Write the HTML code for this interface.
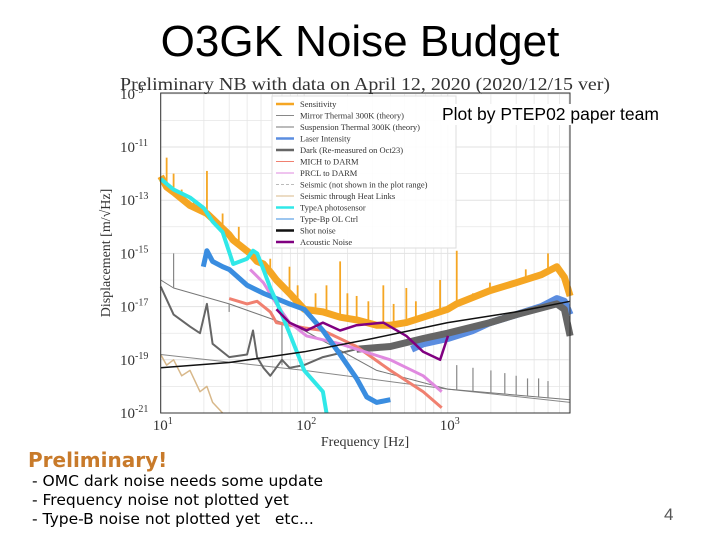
<!DOCTYPE html>
<html><head><meta charset="utf-8">
<style>
body{margin:0;background:#fff;width:720px;height:540px;overflow:hidden;position:relative;font-family:"Liberation Sans",sans-serif}
.abs{position:absolute;white-space:nowrap}
</style></head><body>
<div class="abs" style="left:0;width:720px;text-align:center;top:17px;font-size:44px;color:#000">O3GK Noise Budget</div>
<svg id="chart" width="720" height="540" style="position:absolute;left:0;top:0" xmlns="http://www.w3.org/2000/svg"></svg>
<div class="abs" style="left:441px;top:104px;font-size:17.5px;background:#fff;padding:0 1px">Plot by PTEP02 paper team</div>
<div class="abs" style="left:28px;top:448px;font-size:20px;font-weight:bold;color:#c87a2a;font-family:'DejaVu Sans',sans-serif">Preliminary!</div>
<div class="abs" style="left:32px;top:472px;font-size:15.5px;font-family:'DejaVu Sans',sans-serif">- OMC dark noise needs some update</div>
<div class="abs" style="left:32px;top:491px;font-size:15.5px;font-family:'DejaVu Sans',sans-serif">- Frequency noise not plotted yet</div>
<div class="abs" style="left:32px;top:510px;font-size:15.5px;font-family:'DejaVu Sans',sans-serif">- Type-B noise not plotted yet &nbsp; etc...</div>
<div class="abs" style="left:664px;top:505px;font-size:17px;color:#555">4</div>
<script>
// frequencies in Hz, displacement values as log10 (m/rtHz)
const xTicks=[10,100,1000];
const yTicks=[-21,-19,-17,-15,-13,-11,-9];
const sensF=[10,11,12.3,16,21,23,30,32,42,47,52,58,64,79,100,135,178,232,320,398,515,675,1000,1156,1970,3000,4500,5760,6500,7130];
const sensV=[-12.1,-12.5,-12.7,-13.2,-13.5,-13.7,-14.3,-14.5,-15.0,-15.3,-15.4,-15.7,-16.0,-16.5,-17.1,-17.2,-17.4,-17.5,-17.7,-17.7,-17.6,-17.4,-17.1,-16.9,-16.4,-16.1,-15.8,-15.5,-15.9,-16.6];
const spikeF=[11,12.3,14,17,21,27,35,58,62,79,90,120,143,178,200,232,280,356,420,515,600,885,1156,1500,1970,3500,5000];
const spikeV=[-11.4,-12.0,-12.6,-13.0,-11.9,-13.5,-14.0,-15.2,-15.8,-15.5,-16.2,-16.5,-16.2,-15.3,-16.5,-16.6,-16.8,-16.2,-16.9,-16.3,-16.8,-16.0,-14.9,-16.5,-16.1,-15.6,-15.0];
const cyanF=[10,12.3,16,20,23,27,32,40,44,47,52,58,64,79,100,135,143];
const cyanV=[-12.2,-12.6,-12.9,-13.3,-13.8,-14.2,-15.4,-15.2,-14.9,-15.0,-15.6,-16.3,-16.8,-18.0,-19.4,-20.2,-21.0];
const blueF=[19.8,21,23,27,30,40,52,64,79,100,135,178,232,273,320,398];
const blueV=[-15.5,-14.9,-15.3,-15.5,-15.6,-16.2,-16.5,-16.7,-16.9,-17.1,-17.9,-18.8,-19.7,-20.4,-20.6,-20.5];
const blueHF=[560,675,1000,1500,1970,3000,4500,5760,6500,7130];
const blueHV=[-18.6,-18.4,-18.2,-17.9,-17.6,-17.3,-17.0,-16.7,-16.8,-17.3];
const darkF=[10,12.3,16,18.8,21,23,30,40,44,47,52,58,70,79,100,135,232,398,675,1000,1970,3000,5760,6500,7130];
const darkV=[-16.25,-17.3,-17.75,-18.0,-16.9,-18.4,-18.9,-18.8,-17.9,-18.9,-19.3,-19.6,-19.0,-19.3,-19.2,-18.9,-18.6,-18.5,-18.2,-18.0,-17.6,-17.3,-16.9,-17.1,-18.1];
const shotF=[10,30,100,300,1000,3000,7130];
const shotV=[-19.3,-19.1,-18.7,-18.2,-17.6,-17.2,-16.8];
const michF=[30,40,47,58,64,100,135,232,398,675,908];
const michV=[-16.7,-16.9,-16.8,-17.2,-17.6,-17.8,-17.9,-18.5,-19.4,-20.2,-20.8];
const prclF=[42,52,64,79,104,178,232,398,675,908];
const prclV=[-15.6,-16.1,-16.9,-17.6,-18.1,-18.4,-18.6,-19.0,-19.6,-20.2];
const acF=[64,79,104,135,178,232,356,515,675,885,1005];
const acV=[-17.1,-17.6,-17.9,-17.6,-17.9,-17.7,-17.6,-18.1,-18.7,-19.0,-18.1];
const mirF=[10,100,1000,7130];
const mirV=[-18.8,-19.4,-20.1,-20.6];
const suspF=[10,12.3,30,100,320,1000,7130];
const suspV=[-16.0,-16.3,-16.9,-17.9,-19.4,-20.1,-20.5];
const suspPeakF=[12.3,30,70,1156,1500,2000,2500,3000,3600,4300,5000];
const suspPeakV=[-15.0,-17.2,-19.2,-19.2,-19.3,-19.4,-19.5,-19.6,-19.7,-19.7,-19.8];
const seisF=[10,11,12.3,14,16,18.8,21,23,27];
const seisV=[-18.8,-19.2,-19.0,-19.6,-19.4,-20.2,-20.0,-20.6,-21.0];
const legendLabels=["Sensitivity","Mirror Thermal 300K (theory)","Suspension Thermal 300K (theory)","Laser Intensity","Dark (Re-measured on Oct23)","MICH to DARM","PRCL to DARM","Seismic (not shown in the plot range)","Seismic through Heat Links","TypeA photosensor","Type-Bp OL Ctrl","Shot noise","Acoustic Noise"];
const legendColors=["#f5a623","#888","#777","#5b8de0","#666","#f08070","#e08ae0","#bbb","#d8b88a","#30e8e8","#3a8de0","#111","#800080"];

const NS="http://www.w3.org/2000/svg";
const svg=document.getElementById('chart');
const X0=160.7,XD=143.5,YB=413,YD=26.6,XR=570,YT=93;
const xs=f=>X0+(Math.log10(f)-1)*XD;
const ys=v=>YB-(v+21)*YD;
function el(t,a){const e=document.createElementNS(NS,t);for(const k in a)e.setAttribute(k,a[k]);svg.appendChild(e);return e;}
function txt(x,y,s,a){const e=el('text',Object.assign({x:x,y:y},a));e.textContent=s;return e;}

for(let d=1;d<4;d++)for(let m=1;m<10;m++){const f=m*Math.pow(10,d);const x=xs(f);if(x>XR)break;
 const g=el('line',{x1:x,x2:x,y1:YT,y2:YB,stroke:'#e2e2e2','stroke-width':m==1?1:0.7});
 
 }
for(let v=-21;v<=-9;v++){const y=ys(v);const g=el('line',{x1:X0,x2:XR,y1:y,y2:y,stroke:'#e2e2e2','stroke-width':v%2?1:0.6});
 
 }

function series(F,V,color,w,name){
 const p=F.map((f,i)=>(i?'L':'M')+xs(f).toFixed(1)+','+ys(V[i]).toFixed(1)).join('');
 const e=el('path',{d:p,fill:'none',stroke:color,'stroke-width':w,'stroke-linejoin':'round'});
 
 
 return e;}
function spikes(F,V,baseF,baseV,color,w,name){
 F.forEach((f,i)=>{let j=0;while(j<baseF.length-2&&baseF[j+1]<f)j++;
  const t=(Math.log10(f)-Math.log10(baseF[j]))/(Math.log10(baseF[j+1])-Math.log10(baseF[j]));
  const b=baseV[j]+(baseV[j+1]-baseV[j])*Math.max(0,Math.min(1,t));
  const e=el('line',{x1:xs(f),x2:xs(f),y1:ys(b),y2:ys(V[i]),stroke:color,'stroke-width':w});
  
  });}

series(seisF,seisV,'#d8b88a',1.5,'seismic-heat-links-line');
series(mirF,mirV,'#888',1,'mirror-thermal-line');
series(suspF,suspV,'#777',1,'suspension-thermal-line');
spikes(suspPeakF,suspPeakV,suspF,suspV,'#888',1.2,'suspension-peak');
series(sensF,sensV,'#f5a623',7,'sensitivity-line');
spikes(spikeF,spikeV,sensF,sensV,'#f5a623',1.8,'sensitivity-spike');
series(blueHF,blueHV,'#5b8de0',7,'laser-intensity-hf-line');
series(darkF,darkV,'#666',2,'dark-noise-line');
series(darkF.slice(16),darkV.slice(16),'#666',7,'dark-noise-band');
series(michF,michV,'#f08070',3,'mich-to-darm-line');
series(prclF,prclV,'#e08ae0',3,'prcl-to-darm-line');
series(blueF,blueV,'#3a8de0',5,'laser-intensity-line');
series(cyanF,cyanV,'#30e8e8',4,'typea-photosensor-line');
series(acF,acV,'#800080',2.5,'acoustic-noise-line');
series(shotF,shotV,'#111',1.5,'shot-noise-line');

const fr=el('rect',{x:X0,y:YT,width:XR-X0,height:YB-YT,fill:'none',stroke:'#333','stroke-width':1});


xTicks.forEach(f=>{const t=el('text',{x:xs(f)-8,y:YB+17,'font-family':'Liberation Serif,serif','font-size':15,fill:'#333'});
 t.innerHTML='10<tspan dy="-6" font-size="10">'+Math.log10(f)+'</tspan>';
 
 });
yTicks.forEach(v=>{const t=el('text',{x:120,y:ys(v)+5,'font-family':'Liberation Serif,serif','font-size':15,fill:'#333'});
 t.innerHTML='10<tspan dy="-6" font-size="10">'+v+'</tspan>';
 
 });
const xl=txt(365,446,'Frequency [Hz]',{'font-family':'Liberation Serif,serif','font-size':14,fill:'#333','text-anchor':'middle'});


const yl=txt(110,253,'Displacement [m/\u221AHz]',{'font-family':'Liberation Serif,serif','font-size':14,fill:'#333','text-anchor':'middle',transform:'rotate(-90 110 253)'});


const st=txt(120,90,'Preliminary NB with data on April 12, 2020 (2020/12/15 ver)',{'font-family':'Liberation Serif,serif','font-size':17.5,fill:'#333',textLength:490,lengthAdjust:'spacingAndGlyphs'});



const lb=el('rect',{x:272,y:96,width:184,height:152,fill:'#fff','fill-opacity':0.9,stroke:'#ddd'});


legendLabels.forEach((s,i)=>{const y=104+i*11.5;
 const l=el('line',{x1:276,x2:294,y1:y,y2:y,stroke:legendColors[i],'stroke-width':[0,3,4,9,11,12].includes(i)?2.5:1,'stroke-dasharray':i==7?'3,2':'none'});
 
 
 const t=txt(300,y+3,s,{'font-family':'Liberation Serif,serif','font-size':8.5,fill:'#333'});
 
 });
</script>
</body></html>
